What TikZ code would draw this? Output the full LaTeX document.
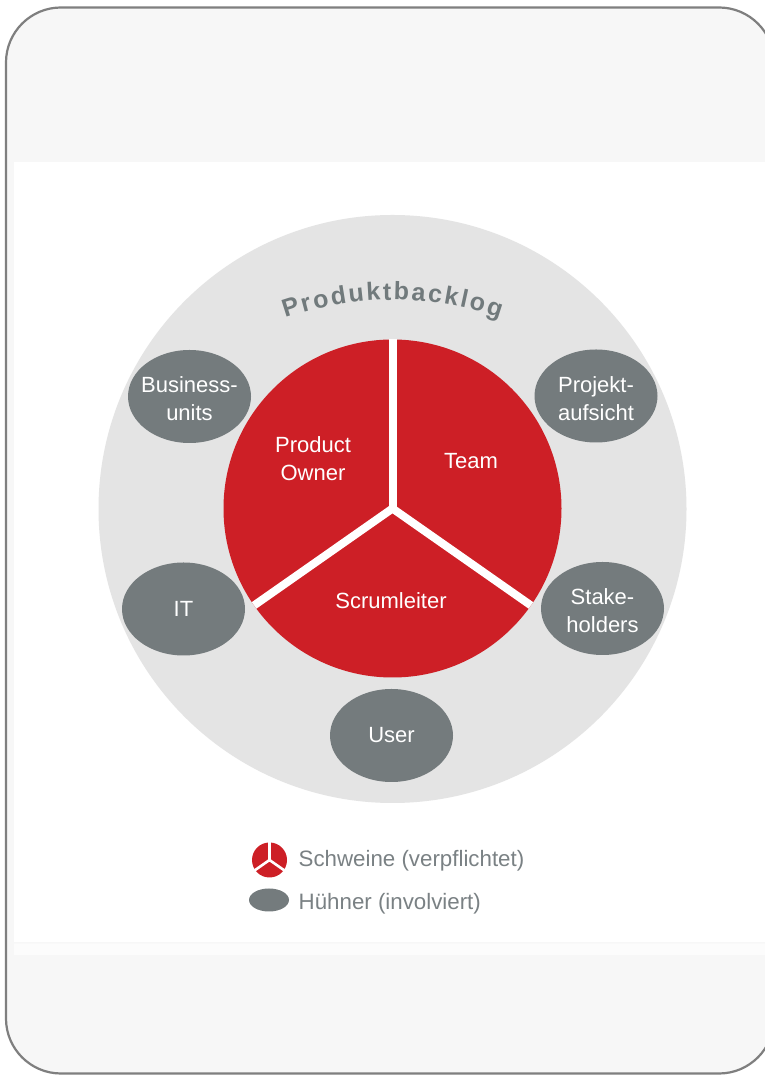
\documentclass[tikz,border=0pt]{standalone}
\usepackage{fontspec}
\setmainfont{Liberation Sans}
\usetikzlibrary{shapes.geometric}
\definecolor{framegray}{HTML}{7F7F7F}
\definecolor{bandgray}{HTML}{F7F7F7}
\definecolor{ringgray}{HTML}{E4E4E4}
\definecolor{pigred}{HTML}{CD1F26}
\definecolor{chicken}{HTML}{747B7D}
\definecolor{pbgray}{HTML}{717A7C}
\definecolor{legendtext}{HTML}{7A8184}
\begin{document}
\begin{tikzpicture}[x=1pt,y=1pt,
  chick/.style={ellipse, fill=chicken, minimum width=123, minimum height=93, inner sep=0pt},
  chicktext/.style={text=white, align=center, inner sep=0pt, font=\fontsize{22}{28}\selectfont},
  pigtext/.style={text=white, align=center, font=\fontsize{22}{28}\selectfont},
  gapline/.style={white, line width=8, line join=miter},
  pbletter/.style={anchor=base, inner sep=0pt, text=pbgray, font=\bfseries\fontsize{25}{28}\selectfont},
  legendlabel/.style={anchor=base west, inner sep=0pt, text=legendtext, font=\fontsize{22.3}{26}\selectfont}]
\useasboundingbox (0,0) rectangle (765,1076);
\fill[white] (0,0) rectangle (765,1076);
% frame
\draw[framegray, line width=2.2, fill=bandgray, rounded corners=55] (6,2.5) rectangle (774,1068.5);
% white band
\fill[white!60!bandgray] (14,121) rectangle (765,133);
\fill[white] (14,133.5) rectangle (765,914);
\draw[bandgray!70!white, line width=0.8] (14,133) -- (765,133);
% backlog ring
\fill[ringgray] (392.5,567) circle (294);
% pigs
\coordinate (c) at (392.5,567.5);
\fill[pigred] (c) circle (169);
\draw[gapline] ([shift={(215:169)}]c) -- (c) -- ([shift={(-35:169)}]c);
\draw[gapline] (c) -- ([shift={(90:169)}]c);
\node[pigtext] (po) at (313,617) {Product\\Owner};
\node[pigtext] (team) at (471,615) {Team};
\node[pigtext] (sm) at (391,475) {Scrumleiter};
% chickens
\node[chick] (bu) at (189.5,679.5) {};
\node[chicktext] (bu-t) at (189.5,677) {Business-\\units};
\node[chick] (pa) at (596,680) {};
\node[chicktext] (pa-t) at (596,677.5) {Projekt-\\aufsicht};
\node[chick] (it) at (183.5,467) {};
\node[chicktext] (it-t) at (183.5,467) {IT};
\node[chick] (sh) at (602.5,467.5) {};
\node[chicktext] (sh-t) at (602.5,465) {Stake-\\holders};
\node[chick] (user) at (391.5,340.5) {};
\node[chicktext] (user-t) at (391.5,341) {User};
% Produktbacklog along arc
\coordinate (arcc) at (392.5,446);
\foreach \ch/\s [count=\i] in {P/-101.07, r/-85.57, o/-70.77, d/-53.20, u/-35.63, k/-18.74, t/-5.33, b/8.78, a/25.66, c/41.86, k/58.06, l/70.79, o/84.20, g/101.77}
  \node[pbletter, rotate={-\s*0.17362}] (pb\i) at ([shift={({90-\s*0.17362}:330)}]arcc) {\ch};
% legend
\coordinate (lp) at (269.5,216);
\fill[pigred] (lp) circle (17.5);
\draw[white, line width=2.6, line join=miter] ([shift={(215:18)}]lp) -- (lp) -- ([shift={(-35:18)}]lp);
\draw[white, line width=2.6] (lp) -- ([shift={(90:18)}]lp);
\node[ellipse, fill=chicken, minimum width=40, minimum height=23, inner sep=0pt] (lc) at (269,176) {};
\node[legendlabel] (lpt) at (298.5,209.3) {Schweine (verpflichtet)};
\node[legendlabel] (lct) at (298.5,166) {Hühner (involviert)};
\end{tikzpicture}
\end{document}
